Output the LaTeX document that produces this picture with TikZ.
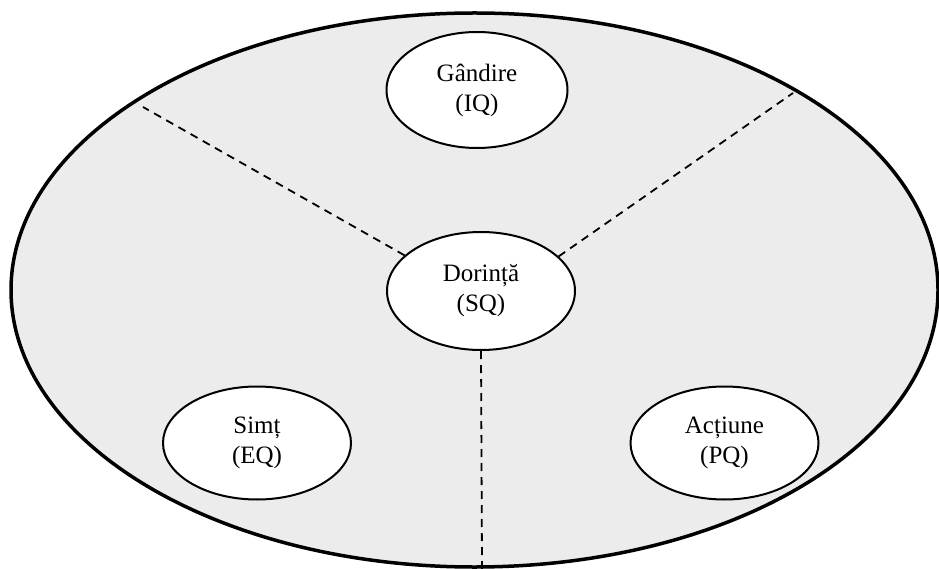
\documentclass[tikz,border=0pt]{standalone}
\usepackage{fontspec}
\setmainfont{Liberation Serif}
\usetikzlibrary{shapes.geometric}
\definecolor{bgfill}{RGB}{236,236,236}
\begin{document}
\begin{tikzpicture}[x=1pt,y=-1pt,
  inner/.style={ellipse, draw=black, line width=2pt, fill=white, minimum width=#1, align=center, font=\fontsize{25}{30}\selectfont, inner sep=0pt},
  divider/.style={line width=1.8pt, dash pattern=on 8pt off 6pt}]
\useasboundingbox (0,0) rectangle (939,569);
\begin{scope}
\clip (0,0) rectangle (939,569);
\fill[bgfill] (474.5,290) ellipse [x radius=463.5, y radius=277];
\coordinate (pl) at (143,107);
\coordinate (pr) at (793,93);
\coordinate (pb) at (482,569);
\node[inner=188pt, minimum height=118pt] (sq) at (481,291) {Dorință\\(SQ)};
\draw[divider] (sq.155) -- (pl);
\draw[divider] (sq.24) -- (pr);
\draw[divider] (sq.south) -- (pb);
\draw[line width=3.5pt] (474.5,290) ellipse [x radius=463.5, y radius=277];
\node[inner=181pt, minimum height=116pt] (iq) at (477,90) {Gândire\\(IQ)};
\node[inner=188pt, minimum height=113pt] (eq) at (257,443) {Simț\\(EQ)};
\node[inner=188pt, minimum height=113pt] (pq) at (724.5,443) {Acțiune\\(PQ)};
\end{scope}
\end{tikzpicture}
\end{document}
